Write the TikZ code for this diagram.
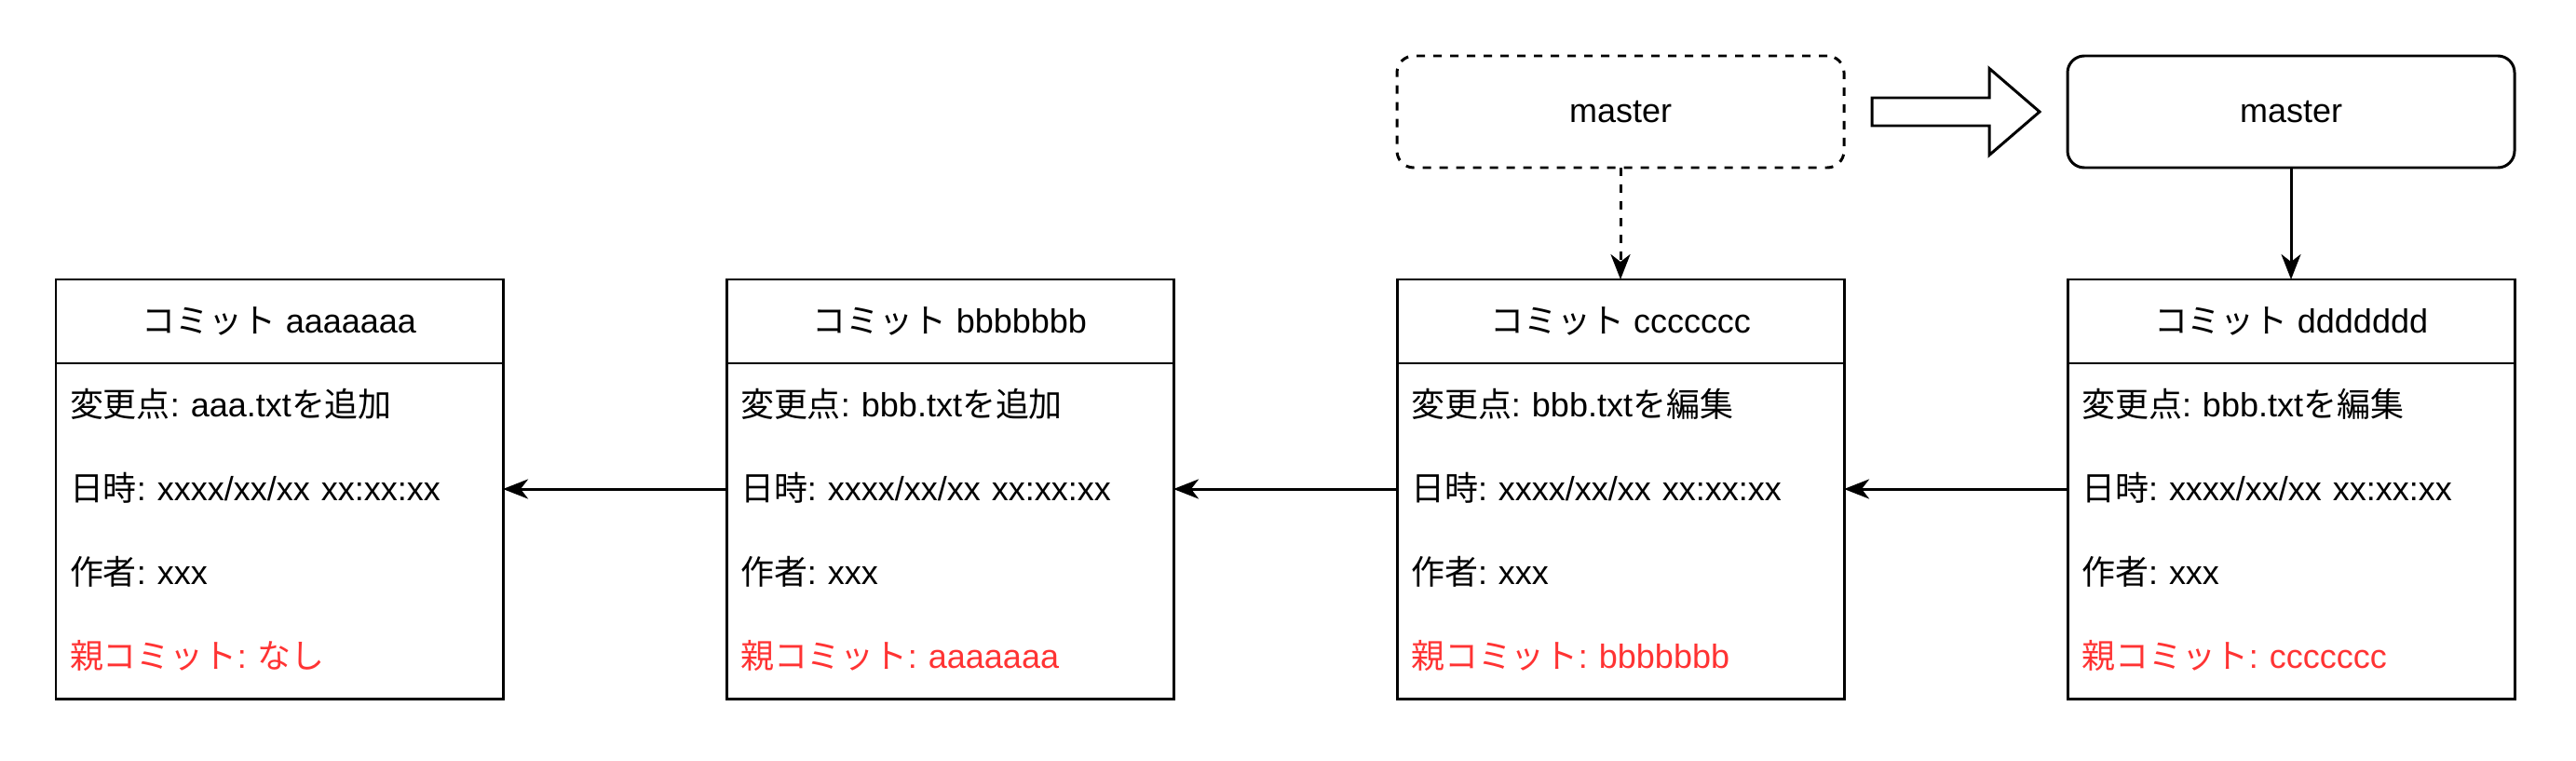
\documentclass[tikz,border=0pt]{standalone}
\usepackage{fontspec}
\setmainfont{Liberation Sans}
\newfontfamily\jpfont{Noto Sans CJK JP}
\usetikzlibrary{arrows.meta, calc, positioning}
\definecolor{parentred}{RGB}{255,51,51}
\frenchspacing

\begin{document}
\begin{tikzpicture}[font=\fontsize{10.24pt}{12pt}\selectfont]
\tikzset{every node/.style={inner sep=0mm, outer sep=0mm}}

\tikzstyle{head}=[rectangle,draw=black,line width=0.85pt,minimum width=4.8cm,minimum height=0.9cm,text height=1.7ex,text depth=.4ex]
\tikzstyle{row}=[rectangle,minimum width=4.8cm,minimum height=0.9cm,text width=4.5cm,align=left,text height=1.7ex,text depth=.4ex]
\tikzstyle{branch}=[rectangle,rounded corners=0.18cm,draw=black,line width=0.85pt,minimum width=4.8cm,minimum height=1.2cm]
\tikzstyle{old}=[dash pattern=on 0.09cm off 0.09cm]
\tikzstyle{post}=[->, line width=0.85pt, >={Stealth[length=0.27cm,width=0.21cm,inset=0.08cm]}]

\useasboundingbox (0,0) rectangle (27.66,8.16);

% commit headers
\node[head] (aaa head) at (3.0,4.71) {{\jpfont コミット} aaaaaaa};
\node[head, right=2.4cm of aaa head] (bbb head) {{\jpfont コミット} bbbbbbb};
\node[head, right=2.4cm of bbb head] (ccc head) {{\jpfont コミット} ccccccc};
\node[head, right=2.4cm of ccc head] (ddd head) {{\jpfont コミット} ddddddd};

% commit rows
\node[row, below=0mm of aaa head] (aaa change) {{\jpfont 変更点}: aaa.txt{\jpfont を追加}};
\node[row, below=0mm of aaa change] (aaa date) {{\jpfont 日時}: xxxx/xx/xx xx:xx:xx};
\node[row, below=0mm of aaa date] (aaa author) {{\jpfont 作者}: xxx};
\node[row, below=0mm of aaa author, text=parentred] (aaa parent) {{\jpfont 親コミット}: {\jpfont なし}};

\node[row, below=0mm of bbb head] (bbb change) {{\jpfont 変更点}: bbb.txt{\jpfont を追加}};
\node[row, below=0mm of bbb change] (bbb date) {{\jpfont 日時}: xxxx/xx/xx xx:xx:xx};
\node[row, below=0mm of bbb date] (bbb author) {{\jpfont 作者}: xxx};
\node[row, below=0mm of bbb author, text=parentred] (bbb parent) {{\jpfont 親コミット}: aaaaaaa};

\node[row, below=0mm of ccc head] (ccc change) {{\jpfont 変更点}: bbb.txt{\jpfont を編集}};
\node[row, below=0mm of ccc change] (ccc date) {{\jpfont 日時}: xxxx/xx/xx xx:xx:xx};
\node[row, below=0mm of ccc date] (ccc author) {{\jpfont 作者}: xxx};
\node[row, below=0mm of ccc author, text=parentred] (ccc parent) {{\jpfont 親コミット}: bbbbbbb};

\node[row, below=0mm of ddd head] (ddd change) {{\jpfont 変更点}: bbb.txt{\jpfont を編集}};
\node[row, below=0mm of ddd change] (ddd date) {{\jpfont 日時}: xxxx/xx/xx xx:xx:xx};
\node[row, below=0mm of ddd date] (ddd author) {{\jpfont 作者}: xxx};
\node[row, below=0mm of ddd author, text=parentred] (ddd parent) {{\jpfont 親コミット}: ccccccc};

% commit boxes
\foreach \i in {aaa, bbb, ccc, ddd} {
    \draw[line width=0.85pt] (\i\space head.north west) rectangle (\i\space parent.south east);
};

% branches
\node[branch, old, above=1.2cm of ccc head] (old master) {master};
\node[branch, above=1.2cm of ddd head] (new master) {master};

\coordinate[right=0.3cm of old master] (move start);
\draw[line width=0.85pt, fill=white, line join=miter] (move start) ++(0,-0.15) -- ++(1.26,0) -- ++(0,-0.315) -- ++(0.54,0.465) -- ++(-0.54,0.465) -- ++(0,-0.315) -- ++(-1.26,0) -- cycle;

\path[post] (bbb date.west) edge (aaa date.east);
\path[post] (ccc date.west) edge (bbb date.east);
\path[post] (ddd date.west) edge (ccc date.east);

\path[post, old] (old master) edge (ccc head);
\path[post] (new master) edge (ddd head);

\end{tikzpicture}
\end{document}
